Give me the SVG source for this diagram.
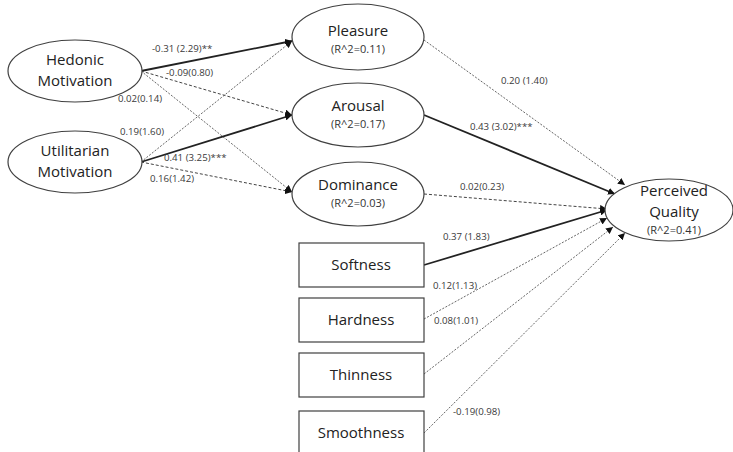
<svg xmlns="http://www.w3.org/2000/svg" width="733" height="452" viewBox="0 0 733 452">
<defs>
<marker id="ah" viewBox="0 0 10 10" refX="10" refY="5" markerWidth="7" markerHeight="7" markerUnits="userSpaceOnUse" orient="auto">
<path d="M0,0 L10,5 L0,10 z" fill="#111"/>
</marker>
</defs>
<style>
.node{fill:#fff;stroke:#404040;stroke-width:1.2}
.nt{font-family:"Open Sans","Liberation Sans",sans-serif;font-size:15px;fill:#222;text-anchor:middle}
.rt{font-family:"Open Sans","Liberation Sans",sans-serif;font-size:11px;fill:#333;text-anchor:middle}
.lb{font-family:"Open Sans","Liberation Sans",sans-serif;font-size:9.7px;fill:#3a3a3a}
.solid{stroke:#222;stroke-width:1.8;fill:none}
.dash{stroke:#444;stroke-width:1;stroke-dasharray:3 2;fill:none}
.dot{stroke:#555;stroke-width:0.9;stroke-dasharray:2 1.5;fill:none}
</style>
<rect width="733" height="452" fill="#fff"/>
<g id="connectors">
<line class="solid" x1="141" y1="71" x2="292" y2="41" marker-end="url(#ah)"/>
<line class="dash" x1="141" y1="71" x2="292" y2="115" marker-end="url(#ah)"/>
<line class="dot" x1="141" y1="71" x2="292" y2="192" marker-end="url(#ah)"/>
<line class="dot" x1="141" y1="162" x2="292" y2="41" marker-end="url(#ah)"/>
<line class="solid" x1="141" y1="162" x2="292" y2="115" marker-end="url(#ah)"/>
<line class="dash" x1="141" y1="162" x2="292" y2="192" marker-end="url(#ah)"/>
<line class="dot" x1="424" y1="40" x2="625" y2="185" marker-end="url(#ah)"/>
<line class="solid" x1="424" y1="115" x2="615" y2="194" marker-end="url(#ah)"/>
<line class="dash" x1="424" y1="194" x2="607" y2="209" marker-end="url(#ah)"/>
<line class="solid" x1="424" y1="265" x2="607" y2="210" marker-end="url(#ah)"/>
<line class="dot" x1="424" y1="319" x2="607" y2="218" marker-end="url(#ah)"/>
<line class="dot" x1="424" y1="374" x2="613" y2="227" marker-end="url(#ah)"/>
<line class="dot" x1="424" y1="433" x2="625" y2="233" marker-end="url(#ah)"/>
<text class="lb" x="152" y="52">-0.31 (2.29)**</text>
<text class="lb" x="166" y="76">-0.09(0.80)</text>
<text class="lb" x="118" y="102">0.02(0.14)</text>
<text class="lb" x="120" y="135">0.19(1.60)</text>
<text class="lb" x="164" y="161">0.41 (3.25)***</text>
<text class="lb" x="150" y="182">0.16(1.42)</text>
<text class="lb" x="501" y="84">0.20 (1.40)</text>
<text class="lb" x="470" y="130">0.43 (3.02)***</text>
<text class="lb" x="460" y="190">0.02(0.23)</text>
<text class="lb" x="443" y="240">0.37 (1.83)</text>
<text class="lb" x="433" y="289">0.12(1.13)</text>
<text class="lb" x="434" y="324">0.08(1.01)</text>
<text class="lb" x="453" y="415">-0.19(0.98)</text>
</g>
<g id="hedonic">
<ellipse class="node" cx="75" cy="71" rx="67" ry="31"/>
<text class="nt" x="75" y="65">Hedonic</text>
<text class="nt" x="75" y="86">Motivation</text>
</g>
<g id="utilitarian">
<ellipse class="node" cx="75" cy="162" rx="67" ry="31"/>
<text class="nt" x="75" y="156">Utilitarian</text>
<text class="nt" x="75" y="177">Motivation</text>
</g>
<g id="pleasure">
<ellipse class="node" cx="358" cy="37" rx="66" ry="33"/>
<text class="nt" x="358" y="36">Pleasure</text>
<text class="rt" x="358" y="53">(R^2=0.11)</text>
</g>
<g id="arousal">
<ellipse class="node" cx="358" cy="115" rx="66" ry="32"/>
<text class="nt" x="358" y="111">Arousal</text>
<text class="rt" x="358" y="128">(R^2=0.17)</text>
</g>
<g id="dominance">
<ellipse class="node" cx="358" cy="194" rx="66" ry="32"/>
<text class="nt" x="358" y="190">Dominance</text>
<text class="rt" x="358" y="207">(R^2=0.03)</text>
</g>
<g id="perceived-quality">
<ellipse class="node" cx="669" cy="210" rx="64" ry="31"/>
<text class="nt" x="674" y="196">Perceived</text>
<text class="nt" x="674" y="217">Quality</text>
<text class="rt" x="674" y="234">(R^2=0.41)</text>
</g>
<g id="softness">
<rect class="node" x="299" y="243" width="125" height="44"/>
<text class="nt" x="361" y="270">Softness</text>
</g>
<g id="hardness">
<rect class="node" x="299" y="298" width="125" height="44"/>
<text class="nt" x="361" y="325">Hardness</text>
</g>
<g id="thinness">
<rect class="node" x="299" y="353" width="125" height="44"/>
<text class="nt" x="361" y="380">Thinness</text>
</g>
<g id="smoothness">
<rect class="node" x="299" y="411" width="125" height="50"/>
<text class="nt" x="361" y="438">Smoothness</text>
</g>
</svg>
